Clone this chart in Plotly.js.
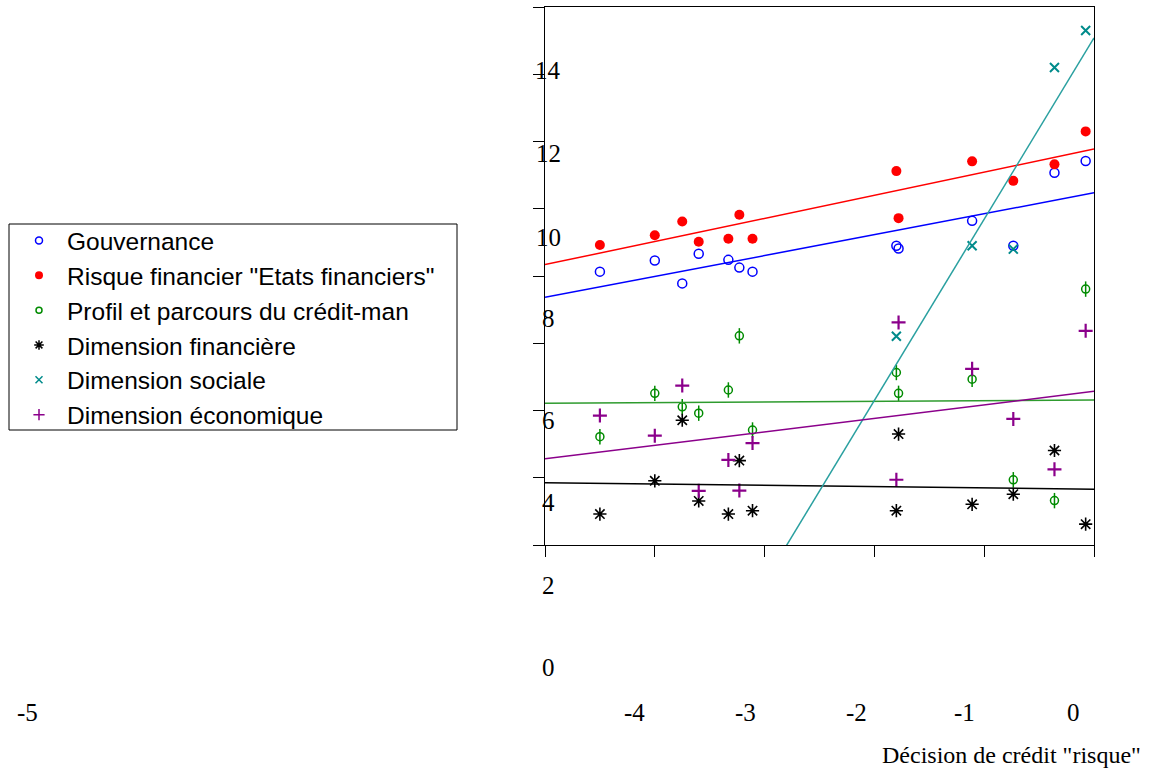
<!DOCTYPE html>
<html>
<head>
<meta charset="utf-8">
<script src="https://cdn.plot.ly/plotly-3.0.1.min.js"></script>
<style>html,body{margin:0;padding:0;background:#fff;} #chart{width:1161px;height:769px;}</style>
</head>
<body>
<div id="chart"></div>
<script>
// ---------- data ----------
const decision = [-4.5, -4.0, -3.75, -3.60, -3.33, -3.23, -3.11, -1.80, -1.78, -1.11, -0.735, -0.36, -0.076];
const gouvernance = [8.13, 8.46, 7.78, 8.66, 8.48, 8.25, 8.13, 8.90, 8.82, 9.64, 8.90, 11.07, 11.42];
const risqueFinancier = [8.92, 9.21, 9.62, 9.02, 9.11, 9.82, 9.11, 11.12, 9.72, 11.41, 10.83, 11.32, 12.30];
const profilCreditMan = [3.22, 4.51, 4.11, 3.92, 4.61, 6.22, 3.42, 5.13, 4.51, 4.93, 1.94, 1.32, 7.61];
const dimFinanciere = [0.92, 1.91, 3.71, 1.31, 0.92, 2.51, 1.02, 1.02, 3.30, 1.21, 1.51, 2.81, 0.62];
const dimSociale = [null, null, null, null, null, null, null, 6.21, null, 8.90, 8.80, 14.20, 15.30];
const dimEconomique = [3.85, 3.25, 4.74, 1.61, 2.53, 1.62, 3.03, 1.94, 6.62, 5.24, 3.75, 2.25, 6.37];

const seriesNames = ['Gouvernance', 'Risque financier "Etats financiers"', 'Profil et parcours du crédit-man',
  'Dimension financière', 'Dimension sociale', 'Dimension économique'];
const xTickLabels = ['-5', '-4', '-3', '-2', '-1', '0'];
const yTickLabels = ['0', '2', '4', '6', '8', '10', '12', '14'];
const xTitle = 'Décision de crédit "risque"';

// ---------- layout constants (pixels in the 1161x769 page) ----------
const W = 1161, H = 769;
const plotL = 545, plotR = 1094, plotT = 7, plotB = 545;
const xLabelPx = [27, 635, 745, 856, 964, 1073], xLabelY = 712;
const yLabelPy = [667, 585, 502, 420, 318, 237, 153, 70], yLabelX = 548;
const legBox = {l: 9, t: 224, r: 457, b: 430};
const xRange = [-5, 0], yRange = [0, 16];

const styles = [
  {color: '#0000FF', symbol: 'circle-open', size: 9, lw: 1.5, lsize: 7},
  {color: '#FF0000', symbol: 'circle', size: 10, lw: 0, lsize: 8},
  {color: '#008B00', symbol: 'circle-open', size: 8, lw: 1.5, lsize: 6},
  {color: '#000000', symbol: 'asterisk-open', size: 11, lw: 1.6, lsize: 8},
  {color: '#008B8B', symbol: 'x-thin-open', size: 9, lw: 2, lsize: 7},
  {color: '#8B008B', symbol: 'cross-thin-open', size: 10, lw: 2.2, lsize: 8}
];
const lineColors = ['#0000FF', '#FF0000', '#2E9B2E', '#000000', '#2AA0A0', '#8B008B'];
const allY = [gouvernance, risqueFinancier, profilCreditMan, dimFinanciere, dimSociale, dimEconomique];

function fit(xs, ys) {
  const px = [], py = [];
  xs.forEach((x, i) => { if (ys[i] !== null && ys[i] !== undefined) { px.push(x); py.push(ys[i]); } });
  const n = px.length;
  const mx = px.reduce((a, b) => a + b, 0) / n, my = py.reduce((a, b) => a + b, 0) / n;
  let sxy = 0, sxx = 0;
  for (let i = 0; i < n; i++) { sxy += (px[i] - mx) * (py[i] - my); sxx += (px[i] - mx) ** 2; }
  const b = sxy / sxx; return {a: my - b * mx, b: b};
}

const traces = [];
allY.forEach((ys, k) => {
  const st = styles[k];
  traces.push({
    type: 'scatter', mode: 'markers', x: decision, y: ys, name: seriesNames[k], showlegend: false,
    marker: {symbol: st.symbol, size: st.size, color: st.color, line: {color: st.color, width: st.lw}}
  });
  if (k === 2) {
    traces.push({
      type: 'scatter', mode: 'markers', x: decision, y: ys, showlegend: false, hoverinfo: 'skip',
      marker: {symbol: 'line-ns-open', size: 11, color: st.color, line: {color: st.color, width: 1.5}}
    });
  }
});
allY.forEach((ys, k) => {
  const f = fit(decision, ys);
  traces.push({
    type: 'scatter', mode: 'lines', x: xRange, y: xRange.map(x => f.a + f.b * x),
    showlegend: false, hoverinfo: 'skip', line: {color: lineColors[k], width: 1.5}
  });
});
// legend entries (smaller symbols, as in the reference legend)
seriesNames.forEach((nm, k) => {
  const st = styles[k];
  traces.push({
    type: 'scatter', mode: 'markers', x: [null], y: [null], name: nm, showlegend: true, hoverinfo: 'skip',
    marker: {symbol: st.symbol, size: st.lsize, color: st.color, line: {color: st.color, width: Math.min(st.lw, 1.5)}}
  });
});

const serif = 'Liberation Serif, Times New Roman, serif';
const annotations = [];
xTickLabels.forEach((t, i) => annotations.push({
  text: t, xref: 'paper', yref: 'paper', x: xLabelPx[i] / W, y: 1 - xLabelY / H,
  xanchor: 'center', yanchor: 'middle', showarrow: false, font: {family: serif, size: 25, color: '#000'}
}));
yTickLabels.forEach((t, i) => annotations.push({
  text: t, xref: 'paper', yref: 'paper', x: yLabelX / W, y: 1 - yLabelPy[i] / H,
  xanchor: 'center', yanchor: 'middle', showarrow: false, font: {family: serif, size: 25, color: '#000'}
}));
annotations.push({
  text: xTitle, xref: 'paper', yref: 'paper', x: 1011 / W, y: 1 - 755 / H,
  xanchor: 'center', yanchor: 'middle', showarrow: false, font: {family: serif, size: 24, color: '#000'}
});

const layout = {
  width: W, height: H, margin: {l: 0, r: 0, t: 0, b: 0},
  paper_bgcolor: '#fff', plot_bgcolor: '#fff', showlegend: true,
  xaxis: {domain: [plotL / W, plotR / W], range: xRange, tick0: 0, dtick: 1, ticks: 'outside', ticklen: 11,
    tickwidth: 1, tickcolor: '#000', showticklabels: false, showgrid: false, zeroline: false,
    showline: true, mirror: true, linecolor: '#000', linewidth: 1.3, fixedrange: true},
  yaxis: {domain: [1 - plotB / H, 1 - plotT / H], range: yRange, tick0: 0, dtick: 2, ticks: 'outside', ticklen: 11,
    tickwidth: 1, tickcolor: '#000', showticklabels: false, showgrid: false, zeroline: false,
    showline: true, mirror: true, linecolor: '#000', linewidth: 1.3, fixedrange: true},
  legend: {x: (legBox.l + 2) / W, y: 1 - (legBox.t - 6) / H, xanchor: 'left', yanchor: 'top',
    bgcolor: 'rgba(0,0,0,0)', borderwidth: 0, itemwidth: 46,
    font: {family: 'Liberation Sans, Arial, sans-serif', size: 24.5, color: '#000'}},
  shapes: [{type: 'rect', xref: 'paper', yref: 'paper', x0: legBox.l / W, x1: legBox.r / W,
    y0: 1 - legBox.b / H, y1: 1 - legBox.t / H, line: {color: '#000', width: 1}, layer: 'below'}],
  annotations: annotations
};

Plotly.newPlot('chart', traces, layout, {displayModeBar: false, staticPlot: true});
</script>
</body>
</html>
